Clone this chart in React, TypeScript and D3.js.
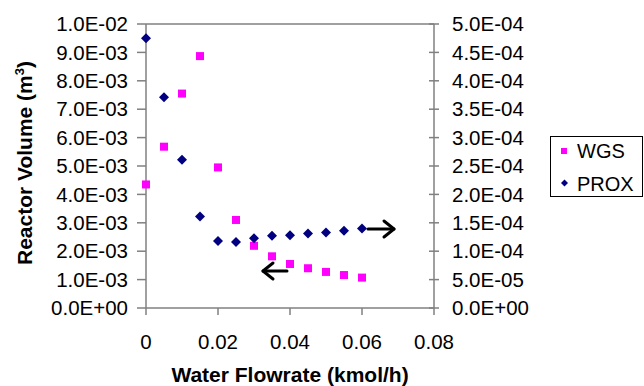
import React from "react";
import * as d3 from "d3";

const flowrate = [0, 0.005, 0.01, 0.015, 0.02, 0.025, 0.03, 0.035, 0.04, 0.045, 0.05, 0.055, 0.06];
const wgsVolume = [4.35e-3, 5.68e-3, 7.55e-3, 8.87e-3, 4.95e-3, 3.1e-3, 2.19e-3, 1.82e-3, 1.55e-3, 1.4e-3, 1.27e-3, 1.16e-3, 1.07e-3];
const proxVolume = [4.75e-4, 3.71e-4, 2.61e-4, 1.61e-4, 1.18e-4, 1.16e-4, 1.23e-4, 1.27e-4, 1.28e-4, 1.31e-4, 1.33e-4, 1.36e-4, 1.4e-4];
const xTicks = [0, 0.02, 0.04, 0.06, 0.08];
const leftTicks = [0, 1e-3, 2e-3, 3e-3, 4e-3, 5e-3, 6e-3, 7e-3, 8e-3, 9e-3, 1e-2];
const rightTicks = [0, 5e-5, 1e-4, 1.5e-4, 2e-4, 2.5e-4, 3e-4, 3.5e-4, 4e-4, 4.5e-4, 5e-4];
const seriesNames = ["WGS", "PROX"];

const W = 644, H = 386;
const L = 146, R = 434, T = 24, B = 308;
const FONT = "'Liberation Sans', Arial, sans-serif";
const AX = "#808080";

function expFmt(v: number) {
  const s = v.toExponential(1).toUpperCase();
  const m = s.match(/^(-?[\d.]+)E([+-])(\d+)$/);
  if (!m) return s;
  return `${m[1]}E${m[2]}${m[3].padStart(2, "0")}`;
}

export default function App() {
  const x = d3.scaleLinear().domain([0, 0.08]).range([L, R]);
  const yL = d3.scaleLinear().domain([0, 0.01]).range([B, T]);
  const yR = d3.scaleLinear().domain([0, 5e-4]).range([B, T]);
  const sq = 8;
  const dia = 5;
  const diamond = (cx: number, cy: number, r: number) =>
    `M${cx},${cy - r}L${cx + r},${cy}L${cx},${cy + r}L${cx - r},${cy}Z`;

  return (
    <svg width={W} height={H} style={{ position: "absolute", left: 0, top: 0 }} fontFamily={FONT}>
      <rect x={0} y={0} width={W} height={H} fill="#fff" />
      {/* frame */}
      <line x1={L} y1={T} x2={R} y2={T} stroke={AX} strokeWidth={1.5} />
      <line x1={L} y1={T} x2={L} y2={B} stroke={AX} strokeWidth={1.5} />
      <line x1={R} y1={T} x2={R} y2={B} stroke={AX} strokeWidth={1.5} />
      <line x1={L} y1={B} x2={R} y2={B} stroke={AX} strokeWidth={1.5} />
      {/* left ticks */}
      {leftTicks.map((t, i) => (
        <g key={"l" + i}>
          <line x1={L - 9} x2={L} y1={yL(t)} y2={yL(t)} stroke={AX} strokeWidth={1.5} />
          <text x={128} y={yL(t)} dy="0.35em" textAnchor="end" fontSize={20.5} fill="#000">{expFmt(t)}</text>
        </g>
      ))}
      {/* right ticks */}
      {rightTicks.map((t, i) => (
        <g key={"r" + i}>
          <line x1={R - 5} x2={R + 5} y1={yR(t)} y2={yR(t)} stroke={AX} strokeWidth={1.5} />
          <text x={452} y={yR(t)} dy="0.35em" textAnchor="start" fontSize={20.5} fill="#000">{expFmt(t)}</text>
        </g>
      ))}
      {/* x ticks */}
      {xTicks.map((t, i) => (
        <g key={"x" + i}>
          <line x1={x(t)} x2={x(t)} y1={B} y2={B + 7} stroke={AX} strokeWidth={1.5} />
          <text x={x(t)} y={342} dy="0.35em" textAnchor="middle" fontSize={20.5} fill="#000">{t === 0 ? "0" : String(t)}</text>
        </g>
      ))}
      {/* titles */}
      <text x={290} y={382} textAnchor="middle" fontSize={21} fontWeight="bold" fill="#000">Water Flowrate (kmol/h)</text>
      <text transform={`translate(32,${(T + B) / 2 - 3}) rotate(-90)`} textAnchor="middle" fontSize={21} fontWeight="bold" fill="#000">
        Reactor Volume (m<tspan dy={-8} fontSize={13}>3</tspan><tspan dy={8}>)</tspan>
      </text>
      {/* WGS points */}
      {flowrate.map((f, i) => (
        <rect key={"w" + i} x={x(f) - sq / 2} y={yL(wgsVolume[i]) - sq / 2} width={sq} height={sq} fill="#FF00FF" />
      ))}
      {/* PROX points */}
      {flowrate.map((f, i) => (
        <path key={"p" + i} d={diamond(x(f), yR(proxVolume[i]), dia)} fill="#000080" />
      ))}
      {/* arrows */}
      <g stroke="#000" strokeWidth={3} fill="none" strokeLinecap="round" strokeLinejoin="round">
        <line x1={368} y1={229} x2={394} y2={229} />
        <polyline points="384,221 394,229 384,237" />
        <line x1={287} y1={271} x2={263} y2={271} />
        <polyline points="273,263 263,271 273,279" />
      </g>
      {/* legend */}
      <rect x={550.5} y={136.5} width={92} height={60} fill="#fff" stroke="#000" strokeWidth={1} />
      <rect x={561} y={148} width={6} height={6} fill="#FF00FF" />
      <text x={577} y={151} dy="0.35em" fontSize={20} fill="#000">{seriesNames[0]}</text>
      <path d={diamond(564.5, 183, 3.5)} fill="#000080" />
      <text x={577} y={184} dy="0.35em" fontSize={20} fill="#000">{seriesNames[1]}</text>
    </svg>
  );
}
